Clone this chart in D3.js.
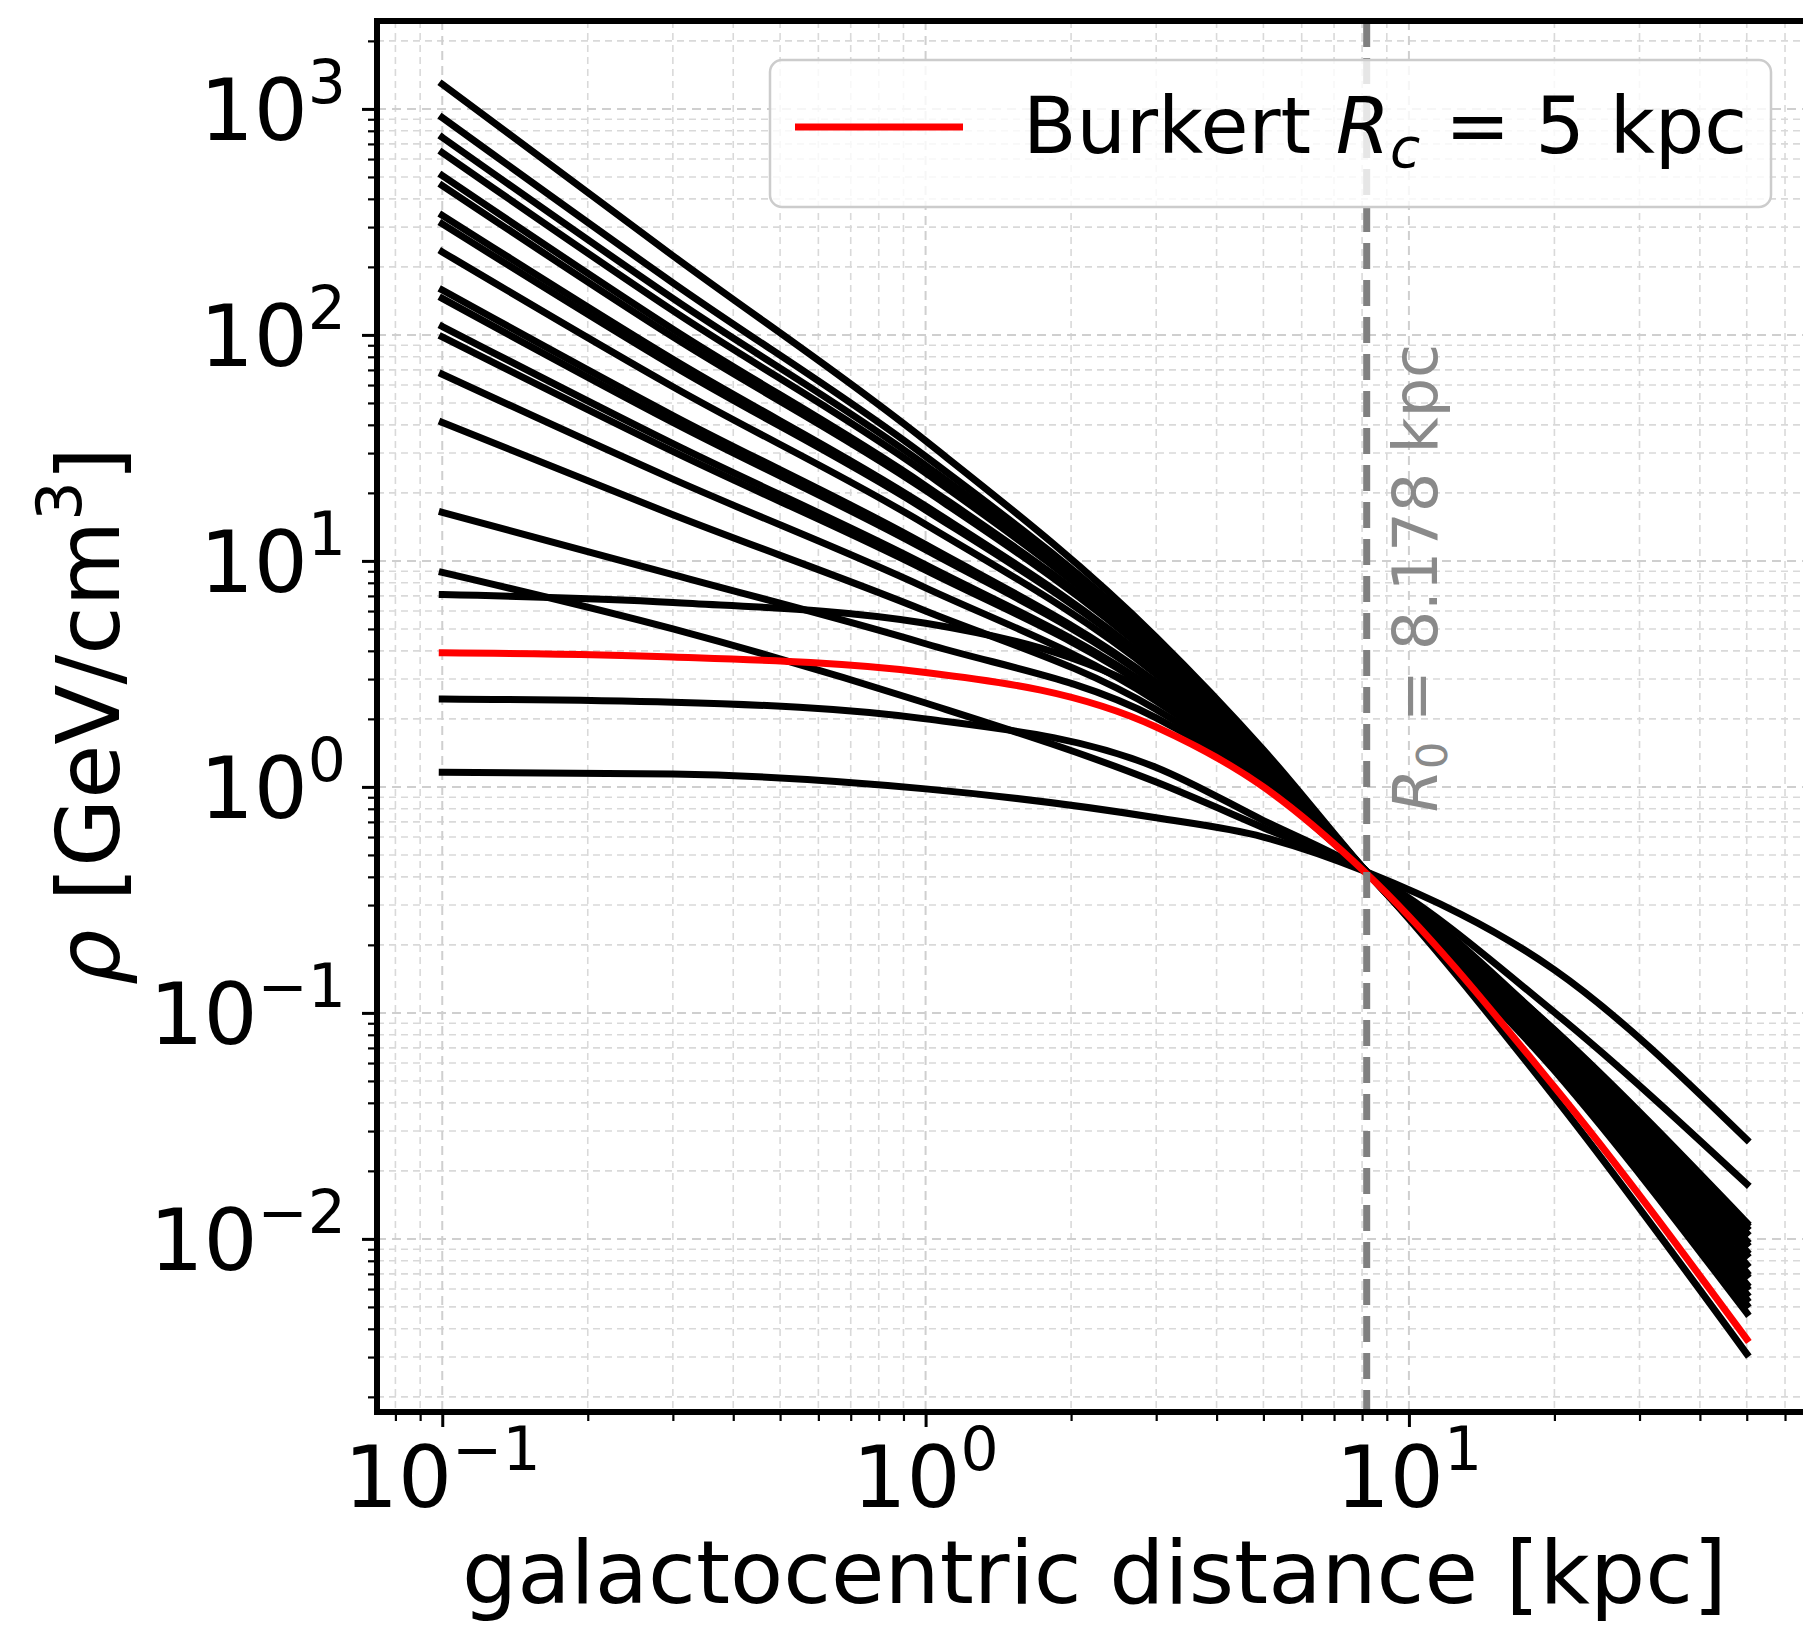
<!DOCTYPE html>
<html>
<head>
<meta charset="utf-8">
<script src="https://cdn.jsdelivr.net/npm/d3@7"></script>
<style>
body { margin: 0; background: #fff; }
text { font-family: "DejaVu Sans", sans-serif; }
</style>
</head>
<body>
<div id="chart"></div>
<script>
const radii = [0.1, 0.3, 1, 3, 5, 8.178, 20, 50];

// density profiles, GeV/cm^3, one row per black curve
const blackProfiles = [
	[1285, 224, 34, 4.6, 1.46, 0.42, 0.0556, 0.0047],
	[915, 170, 29, 4.3, 1.41, 0.42, 0.0577, 0.0051],
	[748, 145, 26.5, 4.1, 1.38, 0.42, 0.0592, 0.0054],
	[641, 128, 24.5, 3.95, 1.35, 0.42, 0.0607, 0.0057],
	[507, 106, 21.5, 3.75, 1.32, 0.42, 0.0625, 0.0061],
	[458, 98, 20.5, 3.65, 1.30, 0.42, 0.0634, 0.0063],
	[338, 78, 17.5, 3.4, 1.26, 0.42, 0.0661, 0.0069],
	[310, 73, 16.8, 3.35, 1.25, 0.42, 0.0670, 0.0071],
	[233, 59, 14.5, 3.15, 1.21, 0.42, 0.0695, 0.0077],
	[158, 44, 11.8, 2.9, 1.17, 0.42, 0.0726, 0.0085],
	[145, 41, 11.2, 2.85, 1.16, 0.42, 0.0738, 0.0088],
	[109, 33, 9.6, 2.65, 1.13, 0.42, 0.0763, 0.0095],
	[98, 30.5, 9.1, 2.6, 1.12, 0.42, 0.0774, 0.0098],
	[67, 23, 7.6, 2.4, 1.09, 0.42, 0.0802, 0.0106],
	[41, 16, 6.0, 2.2, 1.06, 0.42, 0.0822, 0.0112],
	[16.4, 8.7, 4.3, 2.02, 1.03, 0.42, 0.0841, 0.0118],
	[8.9, 5.0, 2.35, 1.05, 0.66, 0.42, 0.1005, 0.0175],
	[7.1, 6.55, 5.30, 2.52, 1.2, 0.42, 0.0424, 0.0031],
	[2.45, 2.37, 2.0, 1.22, 0.71, 0.42, 0.0835, 0.0116],
	[1.16, 1.14, 0.98, 0.73, 0.60, 0.42, 0.155, 0.0275]
];

// Burkert, R_c = 5 kpc
const burkertProfile = [3.92, 3.76, 3.21, 1.84, 1.0, 0.413, 0.047, 0.0036];

const xMajor = [0.1, 1, 10];
const xMajorExp = ['\u22121', '0', '1'];
const yMajor = [0.01, 0.1, 1, 10, 100, 1000];
const yMajorExp = ['\u22122', '\u22121', '0', '1', '2', '3'];

const R0 = 8.178;

const width = 1803;
const height = 1626;
const margin = {left: 377, right: 1812, top: 21, bottom: 1412};

const svg = d3.select('#chart')
.append('svg')
.attr('width', width)
.attr('height', height);

const xScale = d3.scaleLog()
.domain([0.07328, 68.23])
.range([margin.left, margin.right]);

const yScale = d3.scaleLog()
.domain([0.001714, 2449])
.range([margin.bottom, margin.top]);

svg.append('defs').append('clipPath').attr('id', 'clip')
.append('rect')
.attr('x', margin.left).attr('y', margin.top)
.attr('width', margin.right - margin.left)
.attr('height', margin.bottom - margin.top);

// minor tick values between the domain ends
const minorTicks = (scale) => {
	const [a, b] = scale.domain();
	const out = [];
	for (let e = Math.floor(Math.log10(a)); e <= Math.ceil(Math.log10(b)); e++) {
		for (let m = 2; m < 10; m++) {
			const v = m * Math.pow(10, e);
			if (v > a && v < b) out.push(v);
		}
	}
	return out;
};

const xMinor = minorTicks(xScale);
const yMinor = minorTicks(yScale);

const grid = svg.append('g').attr('clip-path', 'url(#clip)');

grid.selectAll('.vminor').data(xMinor).join('line')
.attr('x1', d => xScale(d)).attr('x2', d => xScale(d))
.attr('y1', margin.top).attr('y2', margin.bottom)
.attr('stroke', '#d9d9d9').attr('stroke-width', 1.6).attr('stroke-dasharray', '7,5');

grid.selectAll('.hminor').data(yMinor).join('line')
.attr('y1', d => yScale(d)).attr('y2', d => yScale(d))
.attr('x1', margin.left).attr('x2', margin.right)
.attr('stroke', '#d9d9d9').attr('stroke-width', 1.6).attr('stroke-dasharray', '7,5');

grid.selectAll('.vmajor').data(xMajor).join('line')
.attr('x1', d => xScale(d)).attr('x2', d => xScale(d))
.attr('y1', margin.top).attr('y2', margin.bottom)
.attr('stroke', '#cfcfcf').attr('stroke-width', 2).attr('stroke-dasharray', '9,6');

grid.selectAll('.hmajor').data(yMajor).join('line')
.attr('y1', d => yScale(d)).attr('y2', d => yScale(d))
.attr('x1', margin.left).attr('x2', margin.right)
.attr('stroke', '#cfcfcf').attr('stroke-width', 2).attr('stroke-dasharray', '9,6');

const line = d3.line()
.curve(d3.curveMonotoneX)
.x((d, i) => xScale(radii[i]))
.y(d => yScale(d));

const lines = svg.append('g').attr('clip-path', 'url(#clip)');

lines.selectAll('.profile').data(blackProfiles).join('path')
.attr('class', 'profile')
.attr('d', line)
.attr('fill', 'none')
.attr('stroke', '#000')
.attr('stroke-width', 7)
.attr('stroke-linecap', 'square');

lines.append('path')
.attr('d', line(burkertProfile))
.attr('fill', 'none')
.attr('stroke', '#ff0000')
.attr('stroke-width', 7)
.attr('stroke-linecap', 'square');

// solar radius
lines.append('line')
.attr('x1', xScale(R0)).attr('x2', xScale(R0))
.attr('y1', margin.top).attr('y2', margin.bottom)
.attr('stroke', '#808080').attr('stroke-width', 7).attr('stroke-dasharray', '26,11');

const r0Label = svg.append('text')
.attr('transform', `translate(${xScale(R0) + 70},578) rotate(-90)`)
.attr('text-anchor', 'middle')
.attr('font-size', 62)
.attr('fill', '#8a8a8a');
r0Label.append('tspan').attr('font-style', 'italic').text('R');
r0Label.append('tspan').attr('font-size', 43).attr('dy', 10).text('0');
r0Label.append('tspan').attr('dy', -10).text(' = 8.178 kpc');

// axes ticks
const axis = svg.append('g');

axis.append('g')
.attr('transform', `translate(0,${margin.bottom})`)
.call(d3.axisBottom(xScale).tickValues(xMajor).tickSize(15).tickFormat(''))
.call(g => g.select('.domain').remove())
.selectAll('line').attr('stroke-width', 3);

axis.append('g')
.attr('transform', `translate(0,${margin.bottom})`)
.call(d3.axisBottom(xScale).tickValues(xMinor).tickSize(9).tickFormat(''))
.call(g => g.select('.domain').remove())
.selectAll('line').attr('stroke-width', 2.2);

axis.append('g')
.attr('transform', `translate(${margin.left},0)`)
.call(d3.axisLeft(yScale).tickValues(yMajor).tickSize(15).tickFormat(''))
.call(g => g.select('.domain').remove())
.selectAll('line').attr('stroke-width', 3);

axis.append('g')
.attr('transform', `translate(${margin.left},0)`)
.call(d3.axisLeft(yScale).tickValues(yMinor).tickSize(9).tickFormat(''))
.call(g => g.select('.domain').remove())
.selectAll('line').attr('stroke-width', 2.2);

const powLabel = (sel, exp) => {
	sel.append('tspan').text('10');
	sel.append('tspan').attr('font-size', 60).attr('dy', -37).text(exp);
};

xMajor.forEach((d, i) => {
	axis.append('text')
	.attr('x', xScale(d)).attr('y', 1507)
	.attr('text-anchor', 'middle')
	.attr('font-size', 85)
	.call(powLabel, xMajorExp[i]);
});

yMajor.forEach((d, i) => {
	axis.append('text')
	.attr('x', 346).attr('y', yScale(d) + 31)
	.attr('text-anchor', 'end')
	.attr('font-size', 85)
	.call(powLabel, yMajorExp[i]);
});

svg.append('text')
.attr('x', (margin.left + margin.right) / 2).attr('y', 1603)
.attr('text-anchor', 'middle')
.attr('font-size', 87)
.text('galactocentric distance [kpc]');

const yLabel = svg.append('text')
.attr('transform', `translate(119,716) rotate(-90)`)
.attr('text-anchor', 'middle')
.attr('font-size', 88);
yLabel.append('tspan').attr('font-style', 'italic').text('\u03c1');
yLabel.append('tspan').text(' [GeV/cm');
yLabel.append('tspan').attr('font-size', 62).attr('dy', -38).text('3');
yLabel.append('tspan').attr('dy', 38).text(']');

// legend
const legend = svg.append('g');

legend.append('rect')
.attr('x', 770).attr('y', 60)
.attr('width', 1001).attr('height', 147)
.attr('rx', 12)
.attr('fill', '#fff').attr('fill-opacity', 0.8)
.attr('stroke', '#cccccc').attr('stroke-width', 2.5);

legend.append('line')
.attr('x1', 795).attr('x2', 963)
.attr('y1', 127).attr('y2', 127)
.attr('stroke', '#ff0000').attr('stroke-width', 7);

const legendText = legend.append('text')
.attr('x', 1023).attr('y', 153)
.attr('font-size', 78);
legendText.append('tspan').text('Burkert ');
legendText.append('tspan').attr('font-style', 'italic').text('R');
legendText.append('tspan').attr('font-style', 'italic').attr('font-size', 55).attr('dy', 14).text('c');
legendText.append('tspan').attr('dy', -14).text(' = 5 kpc');

// frame
svg.append('rect')
.attr('x', margin.left).attr('y', margin.top)
.attr('width', margin.right - margin.left)
.attr('height', margin.bottom - margin.top)
.attr('fill', 'none')
.attr('stroke', '#000')
.attr('stroke-width', 6);
</script>
</body>
</html>
